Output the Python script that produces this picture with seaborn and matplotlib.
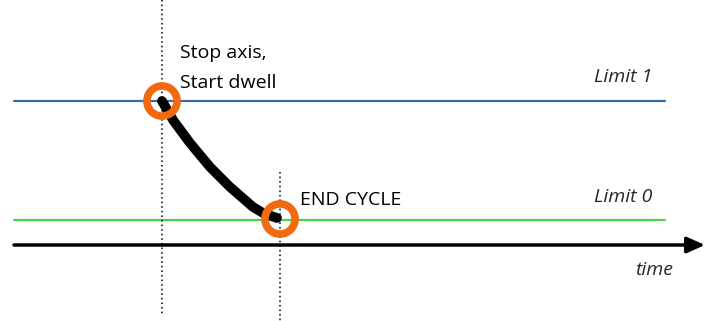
import matplotlib
matplotlib.use("Agg")
import matplotlib.pyplot as plt
import seaborn as sns
import pandas as pd

sns.set_theme(style="white")
plt.rcParams['font.family'] = ['Open Sans', 'DejaVu Sans']

# Diagram data (pixel-like coordinates, y downward)
limit_names = ["Limit 1", "Limit 0"]
limit_levels = [101, 220]
limit_colors = ["#3A6BA3", "#4BD04B"]
event_times = [162, 280]
event_labels = ["Stop axis,\nStart dwell", "END CYCLE"]
curve_x = [162, 173, 190, 210, 230, 253, 263, 277]
curve_y = [101, 120, 143, 167, 187, 207, 213, 218]
marker_x = [162, 280]
marker_y = [101, 219]

fig = plt.figure(figsize=(7.05, 3.21), dpi=100)
ax = fig.add_axes([0, 0, 1, 1])

# Limit lines
for lvl, col in zip(limit_levels, limit_colors):
    ax.plot([14, 665], [lvl, lvl], color=col, lw=1.6, zorder=1)

# Time axis arrow
ax.annotate("", xy=(705, 245), xytext=(14, 245),
            arrowprops=dict(arrowstyle="-|>,head_length=0.9,head_width=0.4",
                            color="black", lw=2.5, shrinkA=0, shrinkB=0))

# Dotted verticals
ax.plot([event_times[0]] * 2, [0, 316], color="black", lw=1.1, ls=(0, (1, 2)), zorder=1)
ax.plot([event_times[1]] * 2, [172, 321], color="black", lw=1.1, ls=(0, (1, 2)), zorder=1)

# Curve
df = pd.DataFrame({"x": curve_x, "y": curve_y})
sns.lineplot(data=df, x="x", y="y", ax=ax, color="black", lw=7,
             sort=False, estimator=None, zorder=3)
line = ax.get_lines()[-1]
line.set_solid_capstyle("round")
line.set_solid_joinstyle("round")

# Orange rings
ax.scatter(marker_x, marker_y, s=470, facecolors="none", edgecolors="#F26A10",
           linewidths=5.5, zorder=4)

# Texts
ax.text(180, 68, event_labels[0], fontsize=14, va="center", ha="left",
        linespacing=1.8, color="black")
ax.text(300, 200, event_labels[1], fontsize=14, va="center", ha="left", color="black")
ax.text(652, 77, limit_names[0], fontsize=14, style="italic", va="center", ha="right")
ax.text(652, 197, limit_names[1], fontsize=14, style="italic", va="center", ha="right")
ax.text(673, 270, "time", fontsize=14, style="italic", va="center", ha="right")

ax.set_xlim(0, 705)
ax.set_ylim(321, 0)
ax.axis("off")

fig.savefig("out.png", dpi=100, facecolor="white")
